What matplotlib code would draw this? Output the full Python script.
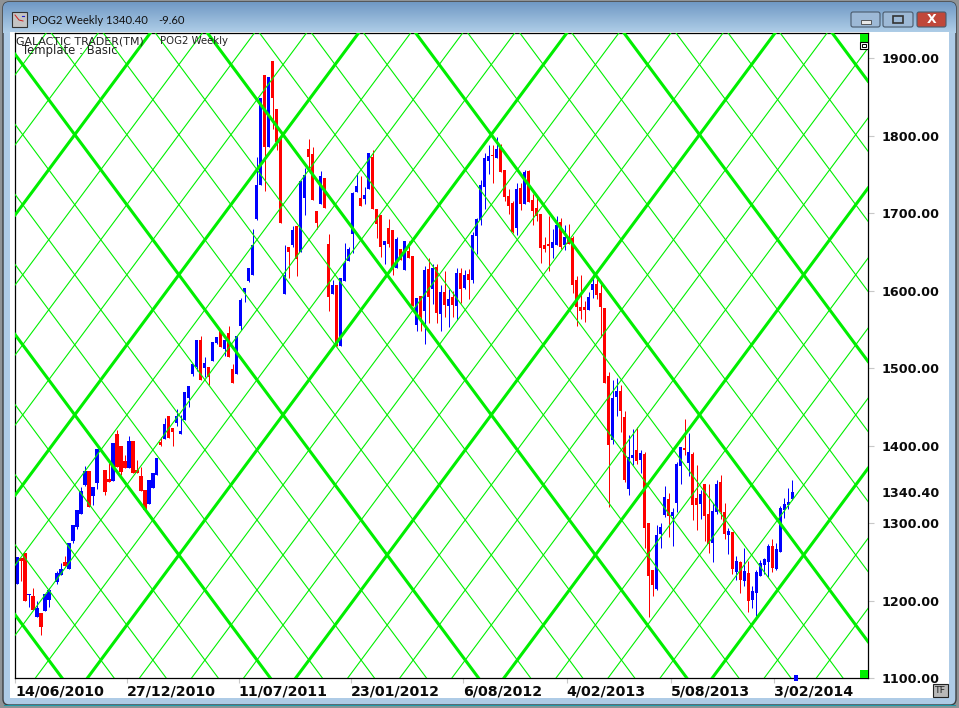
import numpy as np
import matplotlib
matplotlib.use("Agg")
import matplotlib.pyplot as plt
from matplotlib.patches import Rectangle, FancyBboxPatch

nan = float("nan")

# Weekly price bars (one entry per week; nan = no bar drawn)
opens = [1222,1255,1262,1208,1206,1179,1184,1187,1201,nan,
 1224,1233,1250,1241,1277,1295,1312,1349,1367,1335,
 1352,nan,1369,1357,1355,1415,1400,1380,1371,1406,
 1369,1361,1343,1325,1345,1362,1405,1409,1438,1423,
 1429,1415,1433,1462,1492,1502,1537,1501,1502,1509,
 1532,1550,1525,1545,1499,1493,1554,1598,1612,1621,
 1692,1737,1879,1786,1896,1835,1799,1596,1657,1659,
 1683,1650,1720,1783,1777,1703,1712,1745,1660,1596,
 1608,1529,1613,1639,1673,1727,1720,1718,1731,1773,
 1706,1698,1659,1681,1678,1629,1654,1627,1651,1645,
 1556,1593,1574,1628,1602,1631,1570,1599,1580,1592,
 1580,1623,1604,1622,1614,1671,1691,1734,1768,1775,
 1771,1784,1756,1722,1713,1681,1733,1712,1755,1717,
 1707,1699,1659,1660,1655,1659,1689,1659,1667,1668,
 1614,1579,1579,1575,1601,1609,1597,1578,1490,1408,
 1463,1471,1437,1344,1384,1395,1382,1389,1300,1240,
 1215,1286,1311,1331,1309,1326,1374,1397,1378,1389,
 1333,1325,1351,1312,1275,1315,1353,1315,1285,1289,
 1237,1250,1226,1236,1201,1210,1232,1246,1250,1271,
 1241,1263,1317,1324,1331]
closes = [1257,1251,1200,1209,1188,1191,1166,1209,1214,nan,
 1236,1241,1245,1274,1298,1317,1342,1367,1321,1347,
 1396,nan,1340,1353,1404,1373,1366,1371,1406,1365,
 1365,1342,1317,1356,1365,1384,1401,1428,1410,1418,
 1438,1419,1469,1477,1505,1537,1485,1507,1489,1534,
 1541,1528,1537,1514,1481,1542,1588,1603,1630,1659,
 1737,1849,1786,1876,1849,1792,1688,1621,1650,1679,
 1641,1742,1750,1772,1717,1687,1748,1707,1592,1608,
 1529,1617,1636,1654,1726,1735,1710,1724,1778,1706,
 1686,1657,1664,1660,1629,1667,1640,1664,1642,1580,
 1591,1566,1627,1592,1629,1571,1599,1582,1589,1582,
 1623,1602,1620,1614,1672,1693,1737,1771,1774,1774,
 1783,1753,1721,1709,1676,1731,1712,1753,1715,1703,
 1697,1655,1654,1658,1663,1685,1657,1669,1660,1608,
 1579,1574,1575,1592,1609,1595,1579,1481,1401,1462,
 1471,1445,1356,1385,1388,1380,1391,1294,1232,1220,
 1285,1295,1334,1309,1315,1376,1399,1395,1392,1324,
 1324,1338,1309,1273,1316,1351,1315,1286,1290,1241,
 1251,1227,1238,1200,1213,1237,1249,1254,1271,1242,
 1267,1320,1325,1327,1340.4]
highs = [1257,1255,1262,1209,1217,1200,1184,1209,1217,nan,
 1238,1249,1258,1274,1298,1317,1347,1374,1367,1347,
 1396,nan,1369,1378,1404,1420,1400,1388,1413,1406,
 1382,1373,1343,1356,1365,1384,1411,1436,1438,1423,
 1447,1440,1469,1477,1505,1537,1542,1515,1502,1534,
 1541,1550,1537,1554,1506,1542,1591,1603,1630,1680,
 1773,1849,1879,1876,1896,1835,1800,1659,1657,1683,
 1683,1742,1759,1796,1786,1703,1754,1745,1673,1614,
 1608,1617,1662,1657,1727,1752,1748,1734,1778,1782,
 1706,1698,1664,1693,1678,1670,1654,1664,1664,1645,
 1591,1593,1632,1642,1635,1635,1608,1626,1602,1600,
 1629,1629,1627,1628,1676,1694,1743,1778,1788,1788,
 1798,1789,1756,1731,1716,1739,1739,1756,1756,1725,
 1720,1699,1670,1697,1680,1697,1694,1685,1686,1671,
 1619,1620,1587,1598,1620,1615,1611,1578,1495,1485,
 1487,1478,1445,1414,1422,1424,1395,1392,1300,1240,
 1298,1300,1348,1339,1320,1379,1399,1435,1416,1392,
 1375,1343,1351,1351,1326,1356,1362,1326,1294,1289,
 1258,1251,1268,1251,1219,1240,1253,1255,1273,1280,
 1275,1322,1333,1345,1356]
lows = [1222,1226,1200,1192,1188,1179,1156,1187,1192,nan,
 1222,1233,1245,1241,1275,1293,1312,1348,1321,1324,
 1344,nan,1336,1353,1355,1373,1362,1371,1371,1365,
 1365,1342,1317,1325,1345,1362,1400,1409,1410,1400,
 1425,1415,1433,1450,1490,1497,1485,1489,1478,1509,
 1532,1528,1516,1514,1481,1493,1550,1586,1612,1621,
 1692,1737,1729,1786,1809,1782,1688,1596,1617,1656,
 1619,1650,1698,1759,1717,1680,1712,1707,1574,1596,
 1529,1529,1613,1639,1649,1727,1710,1712,1731,1706,
 1668,1644,1635,1657,1620,1629,1640,1627,1642,1580,
 1548,1548,1531,1558,1583,1558,1548,1566,1553,1566,
 1562,1584,1602,1590,1610,1648,1685,1706,1751,1739,
 1771,1753,1716,1699,1675,1672,1704,1712,1715,1685,
 1690,1636,1650,1626,1642,1659,1654,1653,1660,1597,
 1555,1564,1560,1575,1591,1589,1540,1481,1321,1402,
 1438,1418,1353,1336,1375,1377,1365,1268,1179,1206,
 1214,1268,1308,1282,1271,1315,1351,1388,1361,1304,
 1291,1306,1277,1262,1250,1312,1306,1280,1260,1235,
 1227,1210,1219,1186,1191,1180,1232,1235,1231,1237,
 1240,1263,1307,1318,1330]

date_labels = ["14/06/2010", "27/12/2010", "11/07/2011", "23/01/2012",
               "6/08/2012", "4/02/2013", "5/08/2013", "3/02/2014"]
date_weeks = [0, 28, 56, 84, 112, 138, 164, 190]
price_ticks = [1100, 1200, 1300, 1340.40, 1400, 1500, 1600, 1700, 1800, 1900]
price_labels = ["1100.00", "1200.00", "1300.00", "1340.40", "1400.00", "1500.00",
                "1600.00", "1700.00", "1800.00", "1900.00"]

# Gann grid: slope in price per week, spacing in weeks, anchors at a reference price
grid_slope = 6.94
grid_step = 13.025
grid_price = 1459
grid_fall_week = 11.7
grid_rise_week = 17.2

W, H = 959, 708
BLUE, RED, LIME, LIME_T = "#0000ff", "#ff0000", "#00ee00", "#00f000"

fig = plt.figure(figsize=(W / 100, H / 100), dpi=100, facecolor="#8f9396")

# ---- window chrome, in pixel coordinates ----
bg = fig.add_axes([0, 0, 1, 1], zorder=0)
bg.set_xlim(0, W)
bg.set_ylim(H, 0)
bg.axis("off")
win = FancyBboxPatch((3, 2), W - 6, H - 5, boxstyle="round,pad=0,rounding_size=6",
                     fc="#aecbe6", ec="#3c3f42", lw=1.0)
bg.add_patch(win)
grad = np.linspace(0, 1, 64)[:, None]
top, bot = np.array([0.44, 0.60, 0.77]), np.array([0.69, 0.81, 0.91])
img = (top[None, None, :] * (1 - grad[..., None]) + bot[None, None, :] * grad[..., None])
im = bg.imshow(img, extent=(3, W - 3, 33, 2), aspect="auto", zorder=1)
im.set_clip_path(win)
bg.set_xlim(0, W)
bg.set_ylim(H, 0)
bg.add_patch(Rectangle((10, 32), 939, 666, fc="white", ec="none", zorder=2))
bg.plot([4, W - 4], [704.5, 704.5], color="#1f9aa8", lw=0.8, zorder=2)

# title icon
bg.add_patch(Rectangle((12, 12), 15, 15, fc="#c4c4c4", ec="#333333", lw=0.8, zorder=3))
bg.plot([15, 19, 23], [15, 20, 21], color="#d02020", lw=0.7, zorder=4)
bg.plot([22, 24], [16, 16], color="#2020d0", lw=0.8, zorder=4)
bg.text(32, 20, "POG2 Weekly 1340.40", fontsize=8.1, family="Lato",
        color="#111111", va="center", ha="left", zorder=4)
bg.text(158, 20, "-9.60", fontsize=8.1, family="Lato",
        color="#111111", va="center", ha="left", zorder=4)

# window buttons
for x0, x1, fc in [(851, 880, "#9db9d6"), (883, 913, "#9db9d6"), (917, 946, "#c0473a")]:
    bg.add_patch(FancyBboxPatch((x0, 12), x1 - x0, 15, boxstyle="round,pad=0,rounding_size=2",
                                fc=fc, ec="#4a5a6c", lw=0.8, zorder=3))
bg.add_patch(Rectangle((861, 20), 10, 3.5, fc="#e8e8e8", ec="#444444", lw=0.6, zorder=4))
bg.add_patch(Rectangle((893, 16), 10, 7, fc="none", ec="#333333", lw=1.2, zorder=4))
bg.text(931.5, 19.5, "X", fontsize=9, weight="bold", color="white",
        ha="center", va="center", zorder=4)

# ---- the chart ----
L, R, T, B = 15, 868, 33, 678.3
ax = fig.add_axes([L / W, (H - B) / H, (R - L) / W, (B - T) / H], zorder=2)
ax.set_facecolor("white")
ax.set_xlim(-0.325, 212.9)
ax.set_ylim(1100, 1100 + (B - T) / 0.775)

o, c, h, l = map(np.array, (opens, closes, highs, lows))
wk = np.arange(len(o))
up = c >= o
colors = np.where(up, BLUE, RED)
ok = ~np.isnan(o)
ax.vlines(wk[ok], l[ok], h[ok], colors=colors[ok], lw=0.72, zorder=2)
ax.bar(wk[ok], np.abs(c - o)[ok], bottom=np.minimum(o, c)[ok], width=0.8,
       color=colors[ok], zorder=2)

for k in range(-20, 40):
    thick = k % 4 == 0
    lw, col, zo = (2.2, LIME, 4) if thick else (0.8, LIME_T, 3)
    ax.axline((grid_fall_week + k * grid_step, grid_price), slope=-grid_slope,
              color=col, lw=lw, zorder=zo)
    ax.axline((grid_rise_week + k * grid_step, grid_price), slope=grid_slope,
              color=col, lw=lw, zorder=zo)

# blue marker sitting on the time axis, one week past the last bar
ax.bar([len(o)], [8], bottom=[1096], width=1.0, color=BLUE, clip_on=False, zorder=6)

for s in ax.spines.values():
    s.set_color("black")
    s.set_linewidth(0.9)

ax.yaxis.tick_right()
ax.set_yticks(price_ticks)
ax.set_yticklabels(price_labels, fontsize=9.2, weight="bold", color="#0a0a0a")
ax.tick_params(axis="y", length=4.3, width=0.8, color="#c8c8c8", pad=5.5)
for t, v in zip(ax.yaxis.get_major_ticks(), price_ticks):
    if v == 1340.40:
        t.tick2line.set_visible(False)
ax.set_xticks(np.array(date_weeks) - 0.5)
ax.set_xticklabels(date_labels, fontsize=10.2, weight="bold", color="#0a0a0a", ha="left")
ax.tick_params(axis="x", length=3.6, width=0.8, color="#c8c8c8", pad=1.0)

ax.text(16, 41.5, "GALACTIC TRADER(TM)", transform=bg.transData, fontsize=7.9,
        color="#222222", va="center", ha="left", zorder=8)
ax.text(160, 41.5, "POG2 Weekly", transform=bg.transData, fontsize=7.3,
        color="#222222", va="center", ha="left", zorder=8)
ax.text(22, 50.5, "Template : Basic", transform=bg.transData, fontsize=8.4,
        color="#222222", va="center", ha="left", zorder=8)

# corner controls
fg = fig.add_axes([0, 0, 1, 1], zorder=3)
fg.set_xlim(0, W)
fg.set_ylim(H, 0)
fg.axis("off")
fg.patch.set_alpha(0)
fg.add_patch(Rectangle((859.5, 33.5), 8.5, 8, fc="#00ee00", ec="none"))
fg.add_patch(Rectangle((859.5, 41.5), 8.5, 7, fc="white", ec="black", lw=0.8))
fg.add_patch(Rectangle((861.5, 43.5), 4.5, 3, fc="white", ec="black", lw=0.7))
fg.add_patch(Rectangle((859.5, 670), 8.5, 8, fc="#00ee00", ec="none"))
fg.add_patch(Rectangle((932.5, 683.5), 15, 13.5, fc="#b8b8b8", ec="#222222", lw=0.8))
fg.text(940, 690.5, "TF", fontsize=6.8, color="#222222", ha="center", va="center")

fig.savefig("out.png", dpi=100, facecolor=fig.get_facecolor())
